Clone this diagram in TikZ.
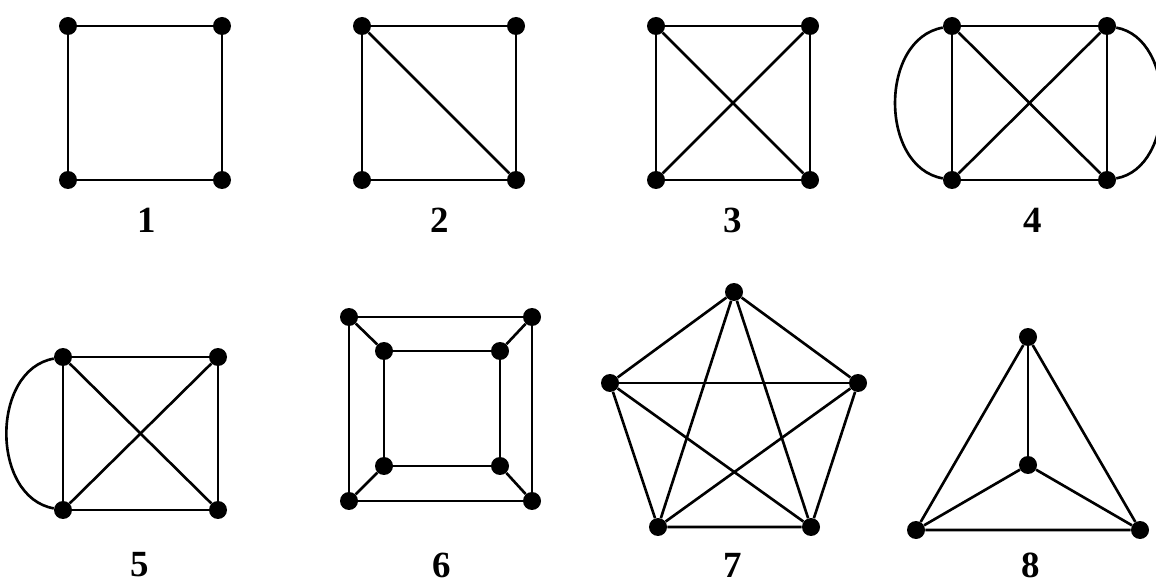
\documentclass[tikz,border=0pt]{standalone}
\usepackage{fontspec}
\setmainfont{Liberation Serif}
\usepackage{tikz}

\begin{document}
\begin{tikzpicture}[
  x=0.02cm, y=-0.02cm,
  vtx/.style={circle, fill=black, inner sep=0pt, minimum size=3.6mm},
  edge/.style={line width=1.5pt, black},
  lbl/.style={font=\fontsize{21}{24}\selectfont\bfseries},
]
\useasboundingbox (0,0) rectangle (1156,587);
% graph 1
\node[vtx] (a1) at (68,26) {}; \node[vtx] (a2) at (222,26) {};
\node[vtx] (a3) at (68,180) {}; \node[vtx] (a4) at (222,180) {};
\draw[edge] (a1) -- (a2) -- (a4) -- (a3) -- (a1);
\node[lbl] (l1) at (147,220) {1};
% graph 2
\node[vtx] (b1) at (362,26) {}; \node[vtx] (b2) at (516,26) {};
\node[vtx] (b3) at (362,180) {}; \node[vtx] (b4) at (516,180) {};
\draw[edge] (b1) -- (b2) -- (b4) -- (b3) -- (b1);
\draw[edge] (b1) -- (b4);
\node[lbl] (l2) at (440,220) {2};
% graph 3
\node[vtx] (c1) at (656,26) {}; \node[vtx] (c2) at (810,26) {};
\node[vtx] (c3) at (656,180) {}; \node[vtx] (c4) at (810,180) {};
\draw[edge] (c1) -- (c2) -- (c4) -- (c3) -- (c1);
\draw[edge] (c1) -- (c4); \draw[edge] (c2) -- (c3);
\node[lbl] (l3) at (733,220) {3};
% graph 4
\node[vtx] (d1) at (952,26) {}; \node[vtx] (d2) at (1107,26) {};
\node[vtx] (d3) at (952,180) {}; \node[vtx] (d4) at (1107,180) {};
\draw[edge] (d1) -- (d2) -- (d4) -- (d3) -- (d1);
\draw[edge] (d1) -- (d4); \draw[edge] (d2) -- (d3);
\draw[edge] (d1) to[out=190, in=170, looseness=1.1] (d3);
\draw[edge] (d2) to[out=-10, in=10, looseness=1.05] (d4);
\node[lbl] (l4) at (1033,220) {4};
% graph 5
\node[vtx] (e1) at (63,357) {}; \node[vtx] (e2) at (218,357) {};
\node[vtx] (e3) at (63,510) {}; \node[vtx] (e4) at (218,510) {};
\draw[edge] (e1) -- (e2) -- (e4) -- (e3) -- (e1);
\draw[edge] (e1) -- (e4); \draw[edge] (e2) -- (e3);
\draw[edge] (e1) to[out=190, in=170, looseness=1.1] (e3);
\node[lbl] (l5) at (140,565) {5};
% graph 6
\node[vtx] (f1) at (349,317) {}; \node[vtx] (f2) at (532,317) {};
\node[vtx] (f3) at (349,501) {}; \node[vtx] (f4) at (532,501) {};
\node[vtx] (f5) at (384,351) {}; \node[vtx] (f6) at (500,351) {};
\node[vtx] (f7) at (384,466) {}; \node[vtx] (f8) at (500,466) {};
\draw[edge] (f1) -- (f2) -- (f4) -- (f3) -- (f1);
\draw[edge] (f5) -- (f6) -- (f8) -- (f7) -- (f5);
\draw[edge] (f1) -- (f5); \draw[edge] (f2) -- (f6);
\draw[edge] (f3) -- (f7); \draw[edge] (f4) -- (f8);
\node[lbl] (l6) at (442,565) {6};
% graph 7
\node[vtx] (g1) at (734,292) {}; \node[vtx] (g2) at (610,383) {};
\node[vtx] (g3) at (858,383) {}; \node[vtx] (g4) at (658,527) {};
\node[vtx] (g5) at (811,527) {};
\draw[edge] (g1) -- (g3) -- (g5) -- (g4) -- (g2) -- (g1);
\draw[edge] (g1) -- (g4); \draw[edge] (g1) -- (g5);
\draw[edge] (g2) -- (g3); \draw[edge] (g2) -- (g5);
\draw[edge] (g3) -- (g4);
\node[lbl] (l7) at (733,565) {7};
% graph 8
\node[vtx] (h1) at (1028,337) {}; \node[vtx] (h2) at (1028,465) {};
\node[vtx] (h3) at (916,530) {}; \node[vtx] (h4) at (1140,530) {};
\draw[edge] (h1) -- (h4) -- (h3) -- (h1);
\draw[edge] (h2) -- (h1); \draw[edge] (h2) -- (h3); \draw[edge] (h2) -- (h4);
\node[lbl] (l8) at (1031,565) {8};
\end{tikzpicture}
\end{document}
